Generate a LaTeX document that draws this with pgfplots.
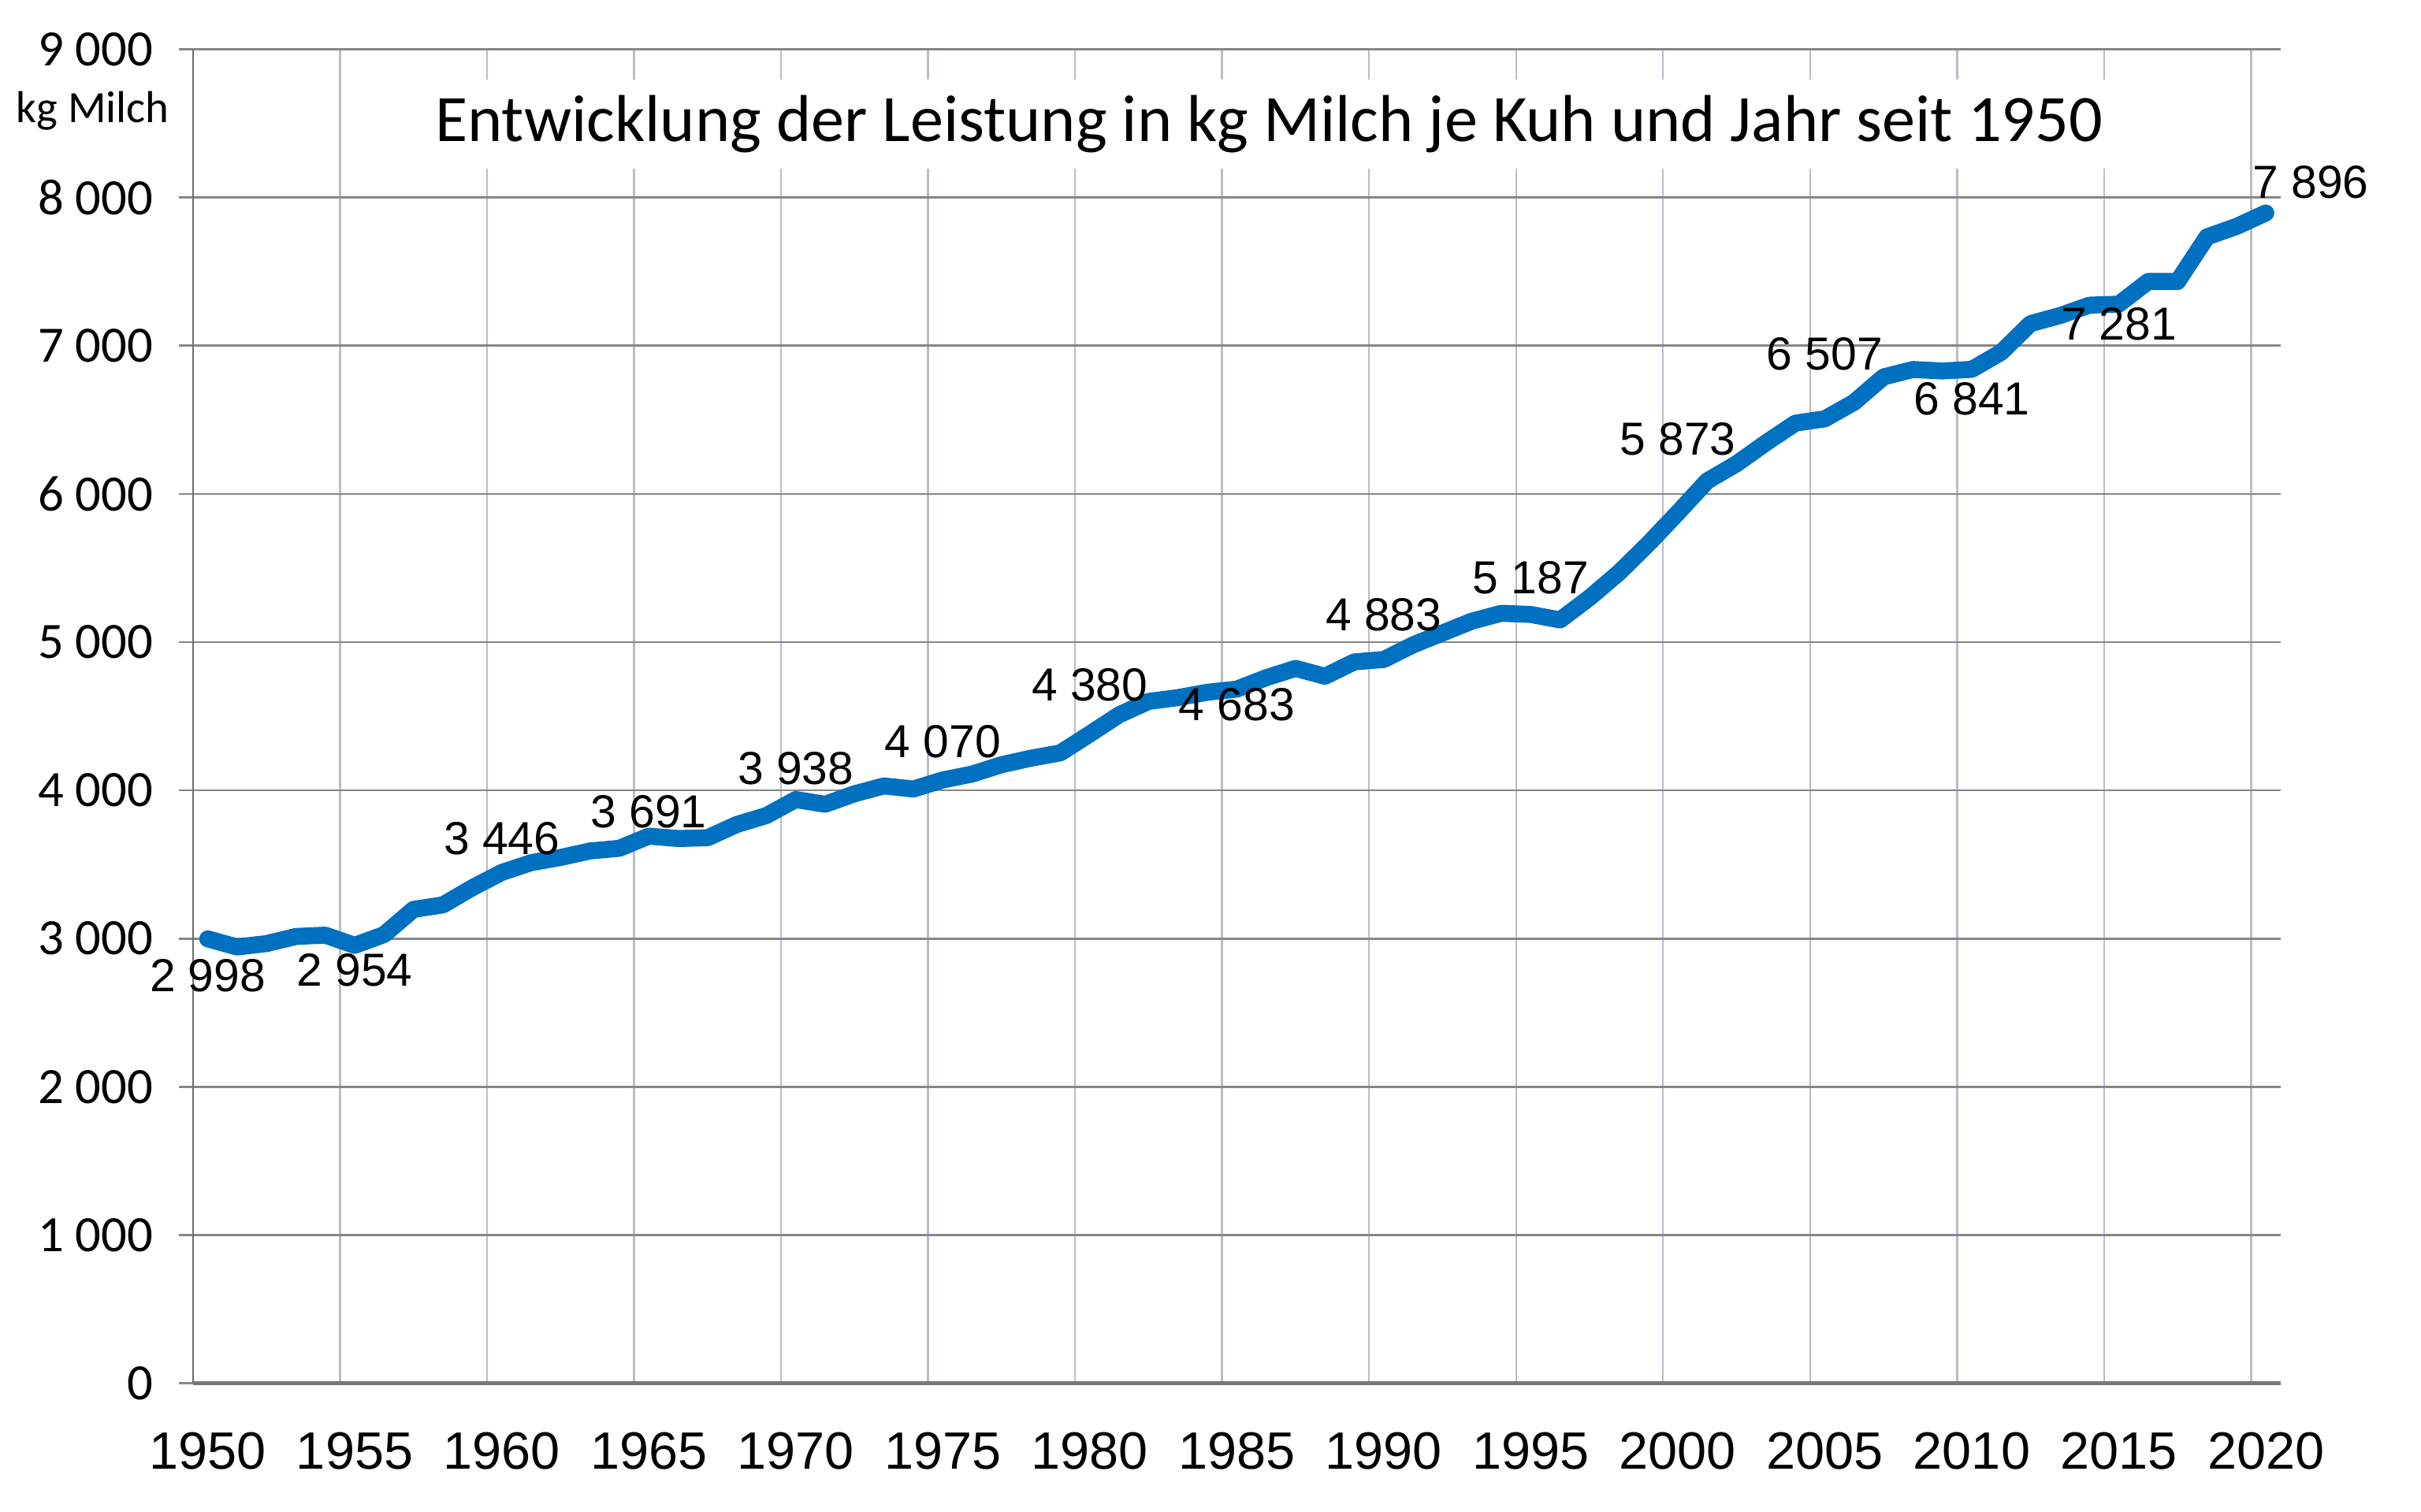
\documentclass[border=0pt]{standalone}
\usepackage{pgfplots}
\pgfplotsset{compat=1.18}
\usepackage{fontspec}
\usepackage{graphicx}
\setmainfont{Liberation Sans}
\newfontfamily\carlito{Carlito}
\definecolor{milk}{RGB}{0,112,192}
\definecolor{hgrid}{RGB}{134,134,134}
\definecolor{vgrid}{RGB}{185,188,205}
\definecolor{yaxis}{RGB}{110,110,110}
\definecolor{xaxis}{RGB}{120,120,120}
\tikzset{dl/.style={font=\fontsize{15}{16}\selectfont, inner sep=0pt, anchor=center}}
\pgfplotstableread{
year value
1950 2998
1951 2943
1952 2966
1953 3014
1954 3023
1955 2954
1956 3027
1957 3197
1958 3227
1959 3343
1960 3446
1961 3512
1962 3547
1963 3591
1964 3609
1965 3691
1966 3675
1967 3680
1968 3770
1969 3830
1970 3938
1971 3906
1972 3977
1973 4030
1974 4009
1975 4070
1976 4110
1977 4173
1978 4217
1979 4253
1980 4380
1981 4510
1982 4600
1983 4626
1984 4662
1985 4683
1986 4760
1987 4823
1988 4770
1989 4867
1990 4883
1991 4982
1992 5062
1993 5142
1994 5195
1995 5187
1996 5150
1997 5300
1998 5469
1999 5664
2000 5873
2001 6088
2002 6204
2003 6345
2004 6478
2005 6507
2006 6619
2007 6790
2008 6840
2009 6830
2010 6841
2011 6956
2012 7150
2013 7204
2014 7274
2015 7281
2016 7434
2017 7434
2018 7735
2019 7805
2020 7896
}\milkdata
\begin{document}
\begin{tikzpicture}
\begin{axis}[
  scale only axis, width=676pt, height=432pt,
  xmin=1949.5, xmax=2020.5, ymin=0, ymax=9000,
  clip=false,
  axis x line*=bottom, axis y line*=left,
  x axis line style={-, draw=xaxis, line width=1.2pt},
  y axis line style={-, draw=yaxis, line width=0.7pt},
  ytick={0,1000,...,9000},
  ymajorgrids, y grid style={hgrid, line width=0.7pt},
  xtick={1950,1955,...,2020},
  minor xtick={1949.5,1954.5,...,2019.5},
  xminorgrids, x grid style={vgrid, line width=0.6pt},
  tick align=outside,
  major tick length=4.5pt, minor tick length=0pt,
  xtick style={draw=none},
  ytick style={draw=hgrid, line width=0.7pt},
  yticklabel={\pgfmathprintnumber[assume math mode=true,1000 sep={\ }]{\tick}},
  yticklabel style={font=\carlito\fontsize{16.5}{18}\selectfont, xshift=-5pt},
  xticklabel={\pgfmathprintnumber[assume math mode=true,1000 sep={},fixed,precision=0]{\tick}},
  xticklabel style={font=\fontsize{17}{18}\selectfont, yshift=-8pt},
]
\addplot[milk, line width=5.5pt, line join=round, line cap=round] table[x=year,y=value] {\milkdata};
\node[dl, yshift=-12pt] at (axis cs:1950,2998) {2 998};
\node[dl, yshift=-8pt] at (axis cs:1955,2954) {2 954};
\node[dl, yshift=11pt] at (axis cs:1960,3446) {3 446};
\node[dl, yshift=8pt] at (axis cs:1965,3691) {3 691};
\node[dl, yshift=10pt] at (axis cs:1970,3938) {3 938};
\node[dl, yshift=12.5pt] at (axis cs:1975,4070) {4 070};
\node[dl, yshift=16pt] at (axis cs:1980,4380) {4 380};
\node[dl, yshift=-5pt] at (axis cs:1985,4683) {4 683};
\node[dl, yshift=14.5pt] at (axis cs:1990,4883) {4 883};
\node[dl, yshift=12pt] at (axis cs:1995,5187) {5 187};
\node[dl, yshift=24pt] at (axis cs:2000,5873) {5 873};
\node[dl, yshift=21pt] at (axis cs:2005,6507) {6 507};
\node[dl, yshift=-9.5pt] at (axis cs:2010,6841) {6 841};
\node[dl, yshift=-6.5pt] at (axis cs:2015,7281) {7 281};
\node[dl, yshift=10pt, xshift=14.5pt] at (axis cs:2020,7896) {7 896};
\node[fill=white, inner xsep=5pt, inner ysep=0pt, minimum height=29pt,
      font=\carlito\fontsize{21.5}{23}\selectfont]
      at (rel axis cs:0.5155,0.944) {Entwicklung der Leistung in kg Milch je Kuh und Jahr seit 1950};
\node[font=\carlito\fontsize{14.5}{16}\selectfont, xshift=-32.5pt] at (rel axis cs:0,0.9537) {kg Milch};
\end{axis}
\pgfresetboundingbox
\path ([xshift=-62.5pt,yshift=-41.5pt]current axis.south west) rectangle ([xshift=45.5pt,yshift=16pt]current axis.north east);
\end{tikzpicture}
\end{document}
